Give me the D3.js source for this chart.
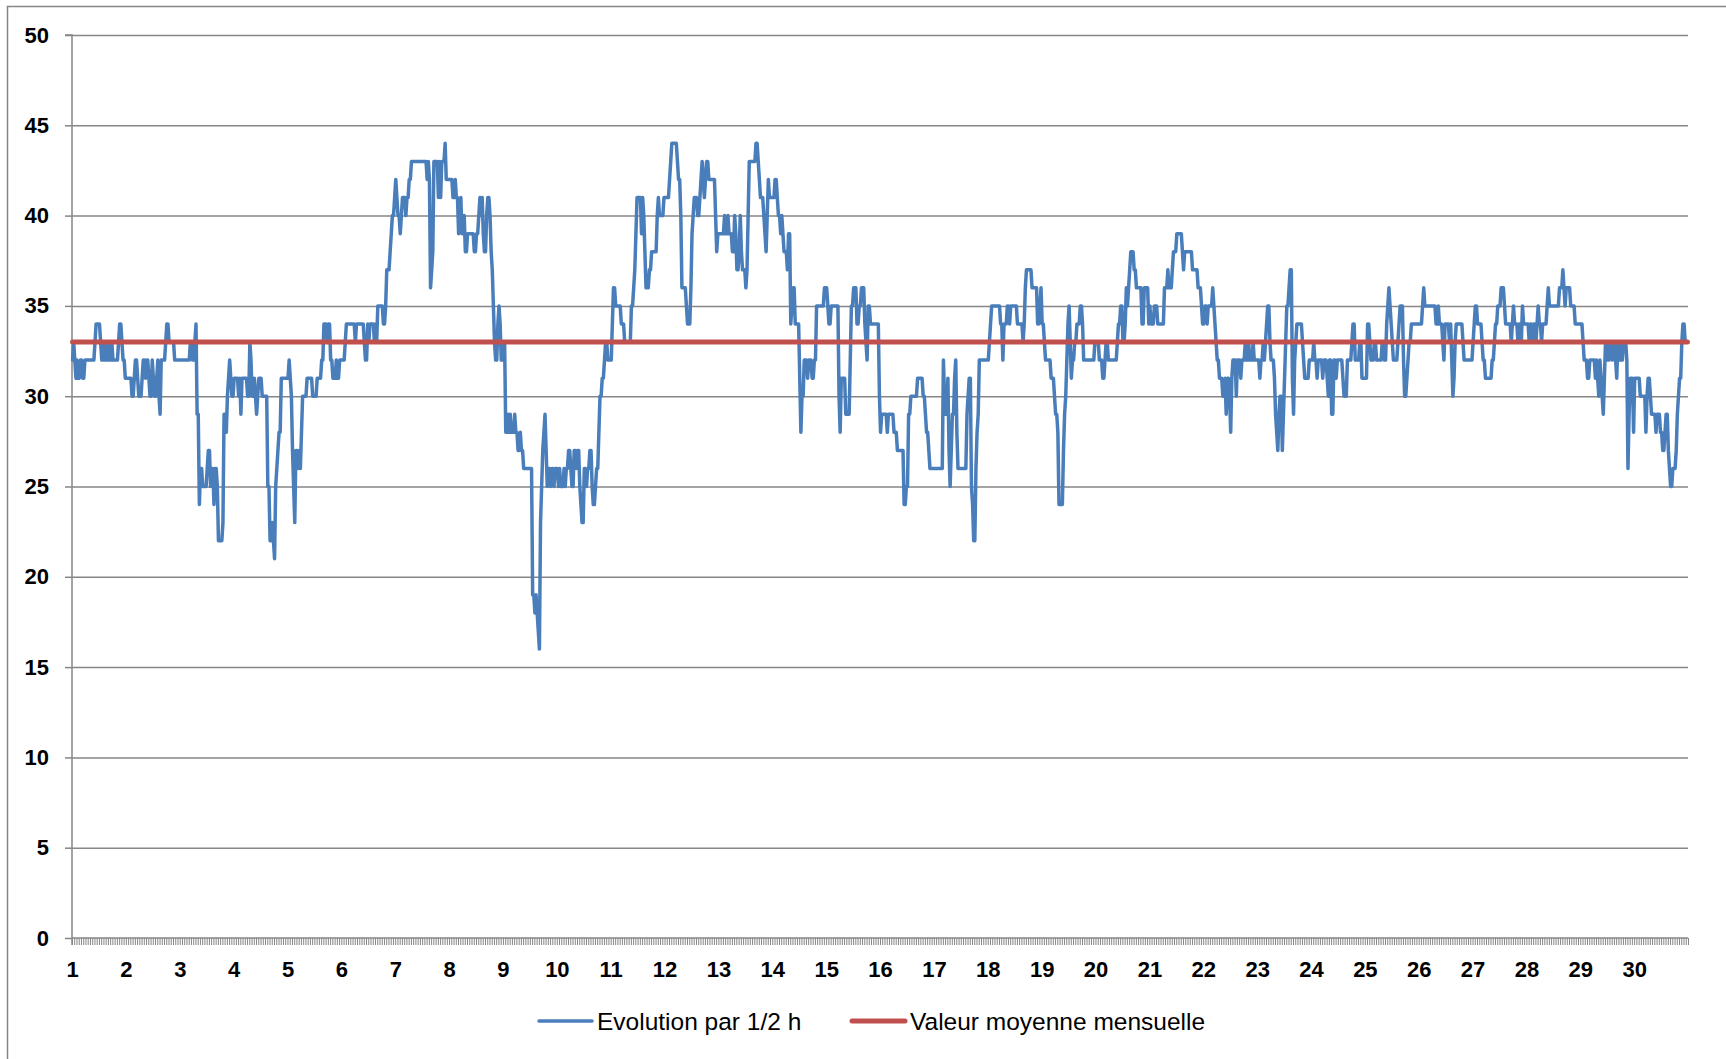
<!DOCTYPE html>
<html><head><meta charset="utf-8">
<script src="https://cdn.jsdelivr.net/npm/d3@7"></script>
<style>body{margin:0;background:#fff} svg{display:block;font-family:"Liberation Sans",Arial,sans-serif}</style>
</head><body><svg id="chart" width="1726" height="1059"></svg>
<script>
// ---- DATA (one value per half hour) ----
const day01 = [32,33,32,31,32,31,31,32,32,31,31,32,32,32,32,32,32,32,32,32,33,34,34,34,34,33,32,32,33,32,33,32,32,33,32,33,32,32,32,32,32,33,34,34,33,32,32,31];
const day02 = [31,31,31,31,31,30,30,31,32,32,31,30,30,30,31,32,32,31,32,32,31,30,30,32,31,30,30,31,32,30,29,32,32,32,32,33,34,34,33,33,33,33,33,32,32,32,32,32];
const day03 = [32,32,32,32,32,32,32,32,32,33,33,32,32,33,34,29,29,24,26,26,25,25,25,25,26,27,27,25,26,26,24,26,26,25,22,22,22,22,23,29,29,28,30,31,32,31,30,30];
const day04 = [31,31,31,31,30,31,29,31,31,31,31,31,30,30,33,32,30,30,31,30,29,30,31,31,31,30,30,30,30,30,25,25,22,22,23,22,21,25,26,27,28,28,31,31,31,31,31,31];
const day05 = [31,32,31,30,27,25,23,27,27,26,27,26,28,30,30,30,30,31,31,31,31,31,30,30,30,30,31,31,31,31,32,32,34,34,34,33,34,34,32,32,31,31,31,32,31,31,32,32];
const day06 = [32,32,32,33,34,34,34,34,34,34,34,34,33,34,34,34,34,34,34,34,33,32,32,34,33,34,34,34,34,33,34,33,35,35,35,35,35,34,34,35,37,37,37,38,39,40,40,41];
const day07 = [42,41,40,40,39,40,41,41,41,40,41,41,42,42,43,43,43,43,43,43,43,43,43,43,43,43,43,43,42,43,42,36,37,38,43,43,43,43,41,43,41,43,43,43,44,42,42,42];
const day08 = [42,42,42,41,41,42,41,41,39,40,41,39,39,40,38,38,39,39,39,39,39,39,38,38,39,39,40,41,40,41,39,38,38,40,41,41,40,38,37,35,33,32,32,34,35,34,32,33];
const day09 = [32,33,28,28,29,28,29,28,28,28,29,28,28,27,27,28,27,27,26,26,26,26,26,26,26,26,19,19,18,19,18,17,16,23,25,27,28,29,27,25,26,26,25,26,26,25,26,26];
const day10 = [26,25,26,25,25,25,26,25,26,26,27,27,26,25,25,27,27,26,27,27,25,24,23,23,26,26,25,26,26,27,27,25,24,24,25,26,26,28,30,30,31,31,32,33,33,32,32,32];
const day11 = [32,34,36,36,35,35,35,35,35,34,34,34,33,33,33,33,33,33,35,35,36,37,39,41,41,41,41,39,41,40,38,36,36,36,37,37,38,38,38,38,38,40,41,40,40,40,40,41];
const day12 = [41,41,41,41,42,43,44,44,44,44,44,43,42,42,40,36,36,36,36,35,34,34,34,36,39,40,41,41,41,40,40,41,42,43,42,41,42,43,43,42,42,42,42,42,42,40,38,39];
const day13 = [39,39,39,39,39,40,39,39,40,39,39,39,38,38,40,39,37,37,38,40,38,37,37,37,36,37,40,43,43,43,43,43,43,44,44,43,42,41,41,41,40,39,38,40,42,41,41,41];
const day14 = [41,41,42,42,41,40,40,39,40,39,38,38,38,37,39,39,34,35,36,36,34,34,34,34,31,28,30,30,32,32,32,31,32,32,32,31,31,32,32,35,35,35,35,35,35,35,36,36];
const day15 = [36,35,34,34,35,35,35,35,35,35,35,30,28,31,31,31,31,29,29,29,29,32,35,35,36,36,36,34,34,35,35,36,36,36,34,33,32,35,35,34,34,34,34,34,34,34,34,30];
const day16 = [28,29,29,29,29,29,28,29,29,29,29,29,28,28,28,27,27,27,27,27,27,24,24,25,25,29,29,30,30,30,30,30,30,31,31,31,31,31,30,30,29,28,28,27,26,26,26,26];
const day17 = [26,26,26,26,26,26,26,26,32,30,29,29,31,27,25,27,29,29,31,32,28,26,26,26,26,26,26,26,26,29,30,31,31,25,24,22,22,26,28,29,32,32,32,32,32,32,32,32];
const day18 = [32,33,34,35,35,35,35,35,35,35,35,34,34,32,34,34,34,35,35,34,35,35,35,35,35,35,34,34,34,34,34,33,34,36,37,37,37,37,37,36,36,36,36,36,34,34,35,36];
const day19 = [34,34,33,32,32,32,32,32,31,31,31,30,29,29,28,24,24,24,24,27,29,30,32,34,35,33,31,32,32,33,33,34,34,34,35,35,34,32,32,32,32,32,32,32,32,32,32,33];
const day20 = [33,33,33,32,32,32,31,31,32,33,33,32,32,32,32,32,32,32,32,33,34,34,35,35,33,33,34,36,35,36,37,38,38,38,37,37,36,36,36,36,36,34,34,36,36,36,36,34];
const day21 = [35,34,34,34,35,35,35,34,34,34,34,34,34,36,36,36,37,36,36,36,37,38,38,38,39,39,39,39,39,38,37,38,38,38,38,38,38,38,37,37,37,37,37,36,36,36,35,34];
const day22 = [34,35,35,34,35,35,35,35,36,35,34,33,32,32,31,31,31,30,30,31,29,31,31,30,28,31,32,32,32,30,32,32,32,31,32,32,32,33,32,32,33,32,32,32,33,32,32,32];
const day23 = [32,32,31,32,32,33,32,33,34,35,35,33,32,32,32,31,29,28,27,29,30,30,27,29,31,33,35,35,36,37,37,31,29,32,33,34,34,34,34,34,33,32,31,31,31,31,32,32];
const day24 = [32,32,33,32,32,31,32,32,32,32,31,32,32,32,31,30,32,32,29,29,32,32,31,32,32,32,32,32,31,30,30,30,32,32,32,32,33,34,34,32,32,32,32,33,33,31,31,31];
const day25 = [31,31,34,34,33,32,32,32,33,33,32,32,32,32,32,33,33,32,32,34,35,36,35,34,33,32,32,32,32,33,34,35,35,35,32,30,30,31,32,33,33,34,34,34,34,34,34,34];
const day26 = [34,34,34,35,36,35,35,35,35,35,35,35,35,35,35,34,34,35,34,34,34,33,32,34,34,34,34,33,34,32,30,31,33,34,34,34,34,34,34,33,32,32,32,32,32,32,32,32];
const day27 = [33,34,35,35,34,34,34,34,33,32,32,31,31,31,31,31,31,32,32,33,34,34,35,35,35,36,36,36,35,34,34,34,34,34,33,34,35,34,34,34,33,34,34,33,35,34,34,34];
const day28 = [34,34,33,34,34,33,34,34,33,34,35,34,34,33,34,34,34,34,35,36,35,35,35,35,35,35,35,35,35,36,36,36,37,36,35,36,36,36,36,35,35,35,35,34,34,34,34,34];
const day29 = [34,34,33,32,32,32,31,31,32,32,32,32,32,31,32,31,30,32,31,30,29,31,33,32,33,32,33,33,32,33,33,32,31,33,33,32,33,32,33,33,33,32,26,29,31,31,31,28];
const day30 = [31,31,31,31,31,30,30,30,30,30,28,30,31,31,30,29,29,29,29,28,29,29,29,28,28,27,27,28,29,29,27,26,25,25,26,26,26,27,29,30,31,31,33,34,34,33,33,33];

const halfHourValues = [].concat(day01,day02,day03,day04,day05,day06,day07,day08,day09,day10,
  day11,day12,day13,day14,day15,day16,day17,day18,day19,day20,
  day21,day22,day23,day24,day25,day26,day27,day28,day29,day30);
const dayLabels = ["1","2","3","4","5","6","7","8","9","10","11","12","13","14","15","16","17","18","19","20","21","22","23","24","25","26","27","28","29","30"];
const pointsPerDay = 48;
const monthlyMean = 33;
const yTicks = [0,5,10,15,20,25,30,35,40,45,50];
const seriesNames = ["Evolution par 1/2 h","Valeur moyenne mensuelle"];
const seriesColors = ["#4a7ebb","#c0504d"];

// ---- LAYOUT ----
const svg = d3.select("#chart");
const L = 72, R = 1688, T = 35, B = 938;
const axisColor = "#868686";

svg.append("rect").attr("x",7.5).attr("y",6.5).attr("width",1800).attr("height",1200)
  .attr("fill","none").attr("stroke",axisColor).attr("stroke-width",1.5);

const idx = halfHourValues.map((d,i)=>i);
const x = d3.scaleBand().domain(idx).range([L,R]).paddingInner(0).paddingOuter(0);
const xc = i => x(i) + x.bandwidth()/2;
const xEdge = d3.scaleLinear().domain([0, halfHourValues.length]).range([L,R]);
const y = d3.scaleLinear().domain([0,50]).range([B,T]);

// grid
const grid = svg.append("g").attr("transform",`translate(${L},0)`)
  .call(d3.axisLeft(y).tickValues(yTicks.filter(v=>v>0)).tickSize(-(R-L)).tickFormat(""));
grid.select(".domain").remove();
grid.selectAll("line").attr("stroke",axisColor).attr("stroke-width",1.5);

// y axis
const yAxis = svg.append("g").attr("transform",`translate(${L},0)`)
  .call(d3.axisLeft(y).tickValues(yTicks).tickSize(7).tickPadding(16));
yAxis.select(".domain").attr("stroke",axisColor).attr("stroke-width",1.5).attr("d",`M-7,${T}H0V${B+7}`);
yAxis.selectAll("line").attr("stroke",axisColor).attr("stroke-width",1.5);
yAxis.selectAll("text").attr("font-size",22).attr("font-weight","bold").attr("fill","#000")
  .attr("font-family","'Liberation Sans',Arial,sans-serif");

// x axis minor ticks
const xTicks = svg.append("g").attr("transform",`translate(0,${B})`)
  .call(d3.axisBottom(xEdge).tickValues(d3.range(0, halfHourValues.length+1, 2)).tickSize(7).tickFormat(""));
xTicks.select(".domain").attr("stroke",axisColor).attr("stroke-width",1.5).attr("d",`M${L},0H${R}`);
xTicks.selectAll("line").attr("stroke",axisColor).attr("stroke-width",1);

// x labels (one per day)
const xLab = svg.append("g").attr("transform",`translate(0,${B})`)
  .call(d3.axisBottom(x).tickValues(dayLabels.map((d,k)=>k*pointsPerDay))
    .tickSize(0).tickPadding(23).tickFormat(i => dayLabels[i/pointsPerDay]));
xLab.select(".domain").remove();
xLab.selectAll("text").attr("font-size",22).attr("font-weight","bold").attr("fill","#000")
  .attr("font-family","'Liberation Sans',Arial,sans-serif");

// series line
const line = d3.line().x((d,i)=>xc(i)).y(d=>y(d));
svg.append("path").datum(halfHourValues).attr("d",line)
  .attr("fill","none").attr("stroke",seriesColors[0]).attr("stroke-width",3.5)
  .attr("stroke-linejoin","round").attr("stroke-linecap","round");

// mean line
const meanPts = [0, halfHourValues.length-1];
svg.append("path").datum(meanPts)
  .attr("d", d3.line().x(i=>xc(i)).y(()=>y(monthlyMean)))
  .attr("fill","none").attr("stroke",seriesColors[1]).attr("stroke-width",5).attr("stroke-linecap","round");

// legend
const legend = [{x:539, w:53, tx:597, sw:3.5},{x:852, w:53, tx:910, sw:5}];
legend.forEach((g,k)=>{
  svg.append("line").attr("x1",g.x).attr("x2",g.x+g.w).attr("y1",1021).attr("y2",1021)
    .attr("stroke",seriesColors[k]).attr("stroke-width",g.sw).attr("stroke-linecap","round");
  svg.append("text").attr("x",g.tx).attr("y",1030).attr("font-size",24.5).attr("fill","#000")
    .text(seriesNames[k]);
});
</script></body></html>
